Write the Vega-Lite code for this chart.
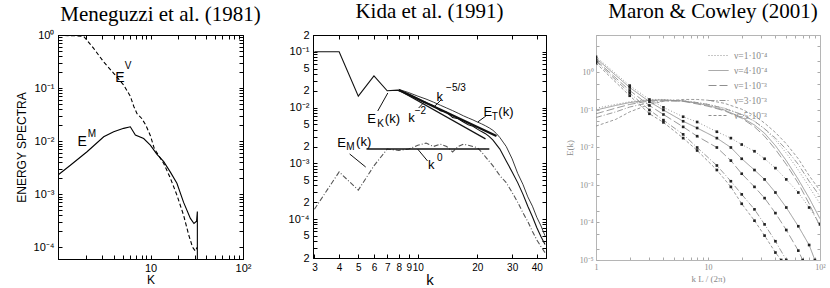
{
  "$schema": "https://vega.github.io/schema/vega-lite/v6.json",
  "padding": {"left": 14, "top": 0, "right": 0, "bottom": 0},
  "background": "white",
  "config": {"view": {"stroke": "black", "strokeWidth": 1}, "axis": {"grid": false, "labelOverlap": false, "labelFlush": false}},
  "spacing": 25,
  "resolve": {"scale": {"strokeDash": "independent"}, "legend": {"strokeDash": "independent"}},
  "datasets": {
    "men": [
      {"s":"EV","i":1,"k":1,"E":0.98},{"s":"EV","i":2,"k":1.5,"E":0.97},{"s":"EV","i":3,"k":1.9,"E":0.94},{"s":"EV","i":4,"k":2.43,"E":0.56},{"s":"EV","i":5,"k":3.12,"E":0.31},{"s":"EV","i":6,"k":4.0,"E":0.19},{"s":"EV","i":7,"k":5.13,"E":0.114},{"s":"EV","i":8,"k":6.05,"E":0.07},{"s":"EV","i":9,"k":6.6,"E":0.045},{"s":"EV","i":10,"k":7.15,"E":0.033},{"s":"EV","i":11,"k":8.0,"E":0.027},{"s":"EV","i":12,"k":8.9,"E":0.02},{"s":"EV","i":13,"k":10,"E":0.0125},{"s":"EV","i":14,"k":11,"E":0.0072},{"s":"EV","i":15,"k":13.9,"E":0.0038},{"s":"EV","i":16,"k":16.4,"E":0.002},{"s":"EV","i":17,"k":19.3,"E":0.00096},{"s":"EV","i":18,"k":22.8,"E":0.0004},{"s":"EV","i":19,"k":25.9,"E":0.00017},{"s":"EV","i":20,"k":28.5,"E":0.0001},{"s":"EV","i":21,"k":30.5,"E":0.000085},{"s":"EV","i":22,"k":32.0,"E":0.0001},
      {"s":"EM","i":1,"k":1,"E":0.0023},{"s":"EM","i":2,"k":1.36,"E":0.0035},{"s":"EM","i":3,"k":2.06,"E":0.0063},{"s":"EM","i":4,"k":3.12,"E":0.0121},{"s":"EM","i":5,"k":4.0,"E":0.015},{"s":"EM","i":6,"k":5.13,"E":0.0174},{"s":"EM","i":7,"k":6.05,"E":0.0186},{"s":"EM","i":8,"k":6.86,"E":0.013},{"s":"EM","i":9,"k":8.44,"E":0.0112},{"s":"EM","i":10,"k":9.96,"E":0.0084},{"s":"EM","i":11,"k":11.7,"E":0.0057},{"s":"EM","i":12,"k":13.9,"E":0.0041},{"s":"EM","i":13,"k":16.4,"E":0.0026},{"s":"EM","i":14,"k":19.3,"E":0.0016},{"s":"EM","i":15,"k":22.8,"E":0.0007},{"s":"EM","i":16,"k":27.0,"E":0.00035},{"s":"EM","i":17,"k":29.5,"E":0.00028},{"s":"EM","i":18,"k":31.5,"E":0.00031},{"s":"EM","i":19,"k":32.1,"E":0.00047},{"s":"EM","i":20,"k":32.1,"E":0.00005}
    ],
    "menlab": [
      {"role":"main","t":"E","k":4.68,"E":0.154},{"role":"sup","t":"V","k":5.71,"E":0.26},
      {"role":"main","t":"E","k":1.82,"E":0.0096},{"role":"sup","t":"M","k":2.33,"E":0.0136}
    ],
    "kida": [
      {"s":"EK","k":3,"E":0.1},{"s":"EK","k":4,"E":0.1},{"s":"EK","k":5,"E":0.016},{"s":"EK","k":6,"E":0.037},{"s":"EK","k":7,"E":0.02},{"s":"EK","k":7.9,"E":0.0205},{"s":"EK","k":9,"E":0.0175},{"s":"EK","k":10,"E":0.0145},{"s":"EK","k":11,"E":0.0122},{"s":"EK","k":12,"E":0.0108},{"s":"EK","k":13,"E":0.0088},{"s":"EK","k":14,"E":0.0082},{"s":"EK","k":15,"E":0.0066},{"s":"EK","k":16,"E":0.0063},{"s":"EK","k":17,"E":0.0055},{"s":"EK","k":18,"E":0.0049},{"s":"EK","k":19,"E":0.0046},{"s":"EK","k":20,"E":0.0041},{"s":"EK","k":21,"E":0.0037},{"s":"EK","k":22,"E":0.0034},{"s":"EK","k":23,"E":0.003},{"s":"EK","k":24,"E":0.0026},{"s":"EK","k":26,"E":0.0018},{"s":"EK","k":28,"E":0.0011},{"s":"EK","k":30,"E":0.0007},{"s":"EK","k":32,"E":0.00045},{"s":"EK","k":34,"E":0.00028},{"s":"EK","k":36,"E":0.00017},{"s":"EK","k":38,"E":0.00011},{"s":"EK","k":40,"E":0.00007},{"s":"EK","k":42,"E":0.000048},{"s":"EK","k":44,"E":0.000035},
      {"s":"ET","k":8,"E":0.0212},{"s":"ET","k":9,"E":0.0185},{"s":"ET","k":10,"E":0.016},{"s":"ET","k":11,"E":0.0142},{"s":"ET","k":12,"E":0.0125},{"s":"ET","k":13,"E":0.011},{"s":"ET","k":14,"E":0.0098},{"s":"ET","k":15,"E":0.0088},{"s":"ET","k":16,"E":0.0079},{"s":"ET","k":17,"E":0.0071},{"s":"ET","k":18,"E":0.0065},{"s":"ET","k":19,"E":0.006},{"s":"ET","k":20,"E":0.0055},{"s":"ET","k":21,"E":0.0051},{"s":"ET","k":22,"E":0.0047},{"s":"ET","k":23,"E":0.0043},{"s":"ET","k":24,"E":0.0039},{"s":"ET","k":25,"E":0.0034},{"s":"ET","k":26,"E":0.0029},{"s":"ET","k":27,"E":0.0024},{"s":"ET","k":28,"E":0.002},{"s":"ET","k":30,"E":0.0012},{"s":"ET","k":32,"E":0.00066},{"s":"ET","k":34,"E":0.00042},{"s":"ET","k":36,"E":0.00025},{"s":"ET","k":38,"E":0.00017},{"s":"ET","k":40,"E":0.000107},{"s":"ET","k":42,"E":0.000075},{"s":"ET","k":44,"E":0.00005},
      {"s":"EM","k":3,"E":0.00015},{"s":"EM","k":4,"E":0.0007},{"s":"EM","k":5,"E":0.00033},{"s":"EM","k":6,"E":0.0009},{"s":"EM","k":7,"E":0.0018},{"s":"EM","k":8,"E":0.0017},{"s":"EM","k":9,"E":0.0018},{"s":"EM","k":10,"E":0.0021},{"s":"EM","k":11,"E":0.0023},{"s":"EM","k":12,"E":0.002},{"s":"EM","k":13,"E":0.0022},{"s":"EM","k":14,"E":0.002},{"s":"EM","k":15,"E":0.0016},{"s":"EM","k":16,"E":0.002},{"s":"EM","k":17,"E":0.0022},{"s":"EM","k":18,"E":0.0021},{"s":"EM","k":19,"E":0.002},{"s":"EM","k":20,"E":0.0019},{"s":"EM","k":21,"E":0.0016},{"s":"EM","k":22,"E":0.0013},{"s":"EM","k":24,"E":0.0009},{"s":"EM","k":26,"E":0.0006},{"s":"EM","k":28,"E":0.00045},{"s":"EM","k":30,"E":0.0003},{"s":"EM","k":32,"E":0.0002},{"s":"EM","k":34,"E":0.00013},{"s":"EM","k":36,"E":0.00009},{"s":"EM","k":38,"E":0.00006},{"s":"EM","k":40,"E":0.000042},{"s":"EM","k":42,"E":0.000032},{"s":"EM","k":44,"E":0.000025},
      {"s":"P53","k":8,"E":0.0207},{"s":"P53","k":25,"E":0.0031},
      {"s":"P2","k":8,"E":0.0207},{"s":"P2","k":22,"E":0.00274},
      {"s":"P0","k":5.5,"E":0.0018},{"s":"P0","k":23,"E":0.0018},
      {"s":"ptrEK","k":6.27,"E":0.00867},{"s":"ptrEK","k":7.05,"E":0.01823},
      {"s":"ptr53","k":12.06,"E":0.01023},{"s":"ptr53","k":13.1,"E":0.01365},
      {"s":"ptr2","k":10.1,"E":0.00982},{"s":"ptr2","k":10.9,"E":0.01309},
      {"s":"ptrET","k":20.1,"E":0.0055},{"s":"ptrET","k":22.1,"E":0.00705},
      {"s":"ptrEM","k":4.52,"E":0.00147},{"s":"ptrEM","k":5.45,"E":0.000857},
      {"s":"ptr0","k":9.98,"E":0.0018},{"s":"ptr0","k":11.2,"E":0.0011}
    ],
    "kidalab": [
      {"role":"main","t":"E","k":5.84,"E":0.00622},{"role":"sub","t":"K","k":6.48,"E":0.00507},{"role":"main","t":"(k)","k":7.44,"E":0.00622},
      {"role":"main","t":"k","k":12.9,"E":0.01545},{"role":"sup","t":"−5/3","k":15.6,"E":0.0224},
      {"role":"main","t":"k","k":9.3,"E":0.00649},{"role":"sup","t":"−2","k":10.3,"E":0.00867},
      {"role":"main","t":"E","k":22.6,"E":0.00832},{"role":"sub","t":"T","k":24.5,"E":0.00676},{"role":"main","t":"(k)","k":27.9,"E":0.00832},
      {"role":"main","t":"E","k":4.11,"E":0.00231},{"role":"sub","t":"M","k":4.56,"E":0.00196},{"role":"main","t":"(k)","k":5.32,"E":0.00241},
      {"role":"main","t":"k","k":11.7,"E":0.000931},{"role":"sup","t":"0","k":12.9,"E":0.00124}
    ],
    "maron": [
      {"kind":"kin","nu":"ν=1·10⁻⁴","k":1,"E":2.63},{"kind":"kin","nu":"ν=1·10⁻⁴","k":2,"E":0.447},{"kind":"kin","nu":"ν=1·10⁻⁴","k":3,"E":0.1905},{"kind":"kin","nu":"ν=1·10⁻⁴","k":4,"E":0.1175},{"kind":"kin","nu":"ν=1·10⁻⁴","k":6,"E":0.0661},{"kind":"kin","nu":"ν=1·10⁻⁴","k":8,"E":0.0479},{"kind":"kin","nu":"ν=1·10⁻⁴","k":12,"E":0.0263},{"kind":"kin","nu":"ν=1·10⁻⁴","k":16,"E":0.0178},{"kind":"kin","nu":"ν=1·10⁻⁴","k":20,"E":0.012},{"kind":"kin","nu":"ν=1·10⁻⁴","k":26,"E":0.00794},{"kind":"kin","nu":"ν=1·10⁻⁴","k":32,"E":0.00501},{"kind":"kin","nu":"ν=1·10⁻⁴","k":40,"E":0.00282},{"kind":"kin","nu":"ν=1·10⁻⁴","k":50,"E":0.00141},{"kind":"kin","nu":"ν=1·10⁻⁴","k":64,"E":0.000631},{"kind":"kin","nu":"ν=1·10⁻⁴","k":80,"E":0.000251},{"kind":"kin","nu":"ν=1·10⁻⁴","k":100,"E":0.0000891},
      {"kind":"kin","nu":"ν=4·10⁻⁴","k":1,"E":2.4},{"kind":"kin","nu":"ν=4·10⁻⁴","k":2,"E":0.398},{"kind":"kin","nu":"ν=4·10⁻⁴","k":3,"E":0.166},{"kind":"kin","nu":"ν=4·10⁻⁴","k":4,"E":0.1},{"kind":"kin","nu":"ν=4·10⁻⁴","k":6,"E":0.0501},{"kind":"kin","nu":"ν=4·10⁻⁴","k":8,"E":0.0331},{"kind":"kin","nu":"ν=4·10⁻⁴","k":12,"E":0.0178},{"kind":"kin","nu":"ν=4·10⁻⁴","k":16,"E":0.01},{"kind":"kin","nu":"ν=4·10⁻⁴","k":20,"E":0.00501},{"kind":"kin","nu":"ν=4·10⁻⁴","k":26,"E":0.00251},{"kind":"kin","nu":"ν=4·10⁻⁴","k":32,"E":0.00141},{"kind":"kin","nu":"ν=4·10⁻⁴","k":40,"E":0.000631},{"kind":"kin","nu":"ν=4·10⁻⁴","k":50,"E":0.000251},{"kind":"kin","nu":"ν=4·10⁻⁴","k":64,"E":0.0000794},{"kind":"kin","nu":"ν=4·10⁻⁴","k":80,"E":0.0000251},{"kind":"kin","nu":"ν=4·10⁻⁴","k":90,"E":0.00001},
      {"kind":"kin","nu":"ν=1·10⁻³","k":1,"E":2.14},{"kind":"kin","nu":"ν=1·10⁻³","k":2,"E":0.331},{"kind":"kin","nu":"ν=1·10⁻³","k":3,"E":0.132},{"kind":"kin","nu":"ν=1·10⁻³","k":4,"E":0.0759},{"kind":"kin","nu":"ν=1·10⁻³","k":6,"E":0.0355},{"kind":"kin","nu":"ν=1·10⁻³","k":8,"E":0.02},{"kind":"kin","nu":"ν=1·10⁻³","k":12,"E":0.01},{"kind":"kin","nu":"ν=1·10⁻³","k":16,"E":0.00447},{"kind":"kin","nu":"ν=1·10⁻³","k":20,"E":0.002},{"kind":"kin","nu":"ν=1·10⁻³","k":26,"E":0.000891},{"kind":"kin","nu":"ν=1·10⁻³","k":32,"E":0.000447},{"kind":"kin","nu":"ν=1·10⁻³","k":40,"E":0.000178},{"kind":"kin","nu":"ν=1·10⁻³","k":50,"E":0.0000631},{"kind":"kin","nu":"ν=1·10⁻³","k":64,"E":0.0000178},{"kind":"kin","nu":"ν=1·10⁻³","k":70,"E":0.00001},
      {"kind":"kin","nu":"ν=3·10⁻³","k":1,"E":2.0},{"kind":"kin","nu":"ν=3·10⁻³","k":2,"E":0.282},{"kind":"kin","nu":"ν=3·10⁻³","k":3,"E":0.1},{"kind":"kin","nu":"ν=3·10⁻³","k":4,"E":0.0537},{"kind":"kin","nu":"ν=3·10⁻³","k":6,"E":0.0224},{"kind":"kin","nu":"ν=3·10⁻³","k":8,"E":0.01},{"kind":"kin","nu":"ν=3·10⁻³","k":12,"E":0.00331},{"kind":"kin","nu":"ν=3·10⁻³","k":16,"E":0.00126},{"kind":"kin","nu":"ν=3·10⁻³","k":20,"E":0.000562},{"kind":"kin","nu":"ν=3·10⁻³","k":26,"E":0.000224},{"kind":"kin","nu":"ν=3·10⁻³","k":32,"E":0.0000891},{"kind":"kin","nu":"ν=3·10⁻³","k":40,"E":0.0000316},{"kind":"kin","nu":"ν=3·10⁻³","k":50,"E":0.00001},
      {"kind":"kin","nu":"ν=5·10⁻³","k":1,"E":1.78},{"kind":"kin","nu":"ν=5·10⁻³","k":2,"E":0.24},{"kind":"kin","nu":"ν=5·10⁻³","k":3,"E":0.0794},{"kind":"kin","nu":"ν=5·10⁻³","k":4,"E":0.0468},{"kind":"kin","nu":"ν=5·10⁻³","k":6,"E":0.0178},{"kind":"kin","nu":"ν=5·10⁻³","k":8,"E":0.00832},{"kind":"kin","nu":"ν=5·10⁻³","k":12,"E":0.00251},{"kind":"kin","nu":"ν=5·10⁻³","k":16,"E":0.000891},{"kind":"kin","nu":"ν=5·10⁻³","k":20,"E":0.000316},{"kind":"kin","nu":"ν=5·10⁻³","k":26,"E":0.000112},{"kind":"kin","nu":"ν=5·10⁻³","k":32,"E":0.0000447},{"kind":"kin","nu":"ν=5·10⁻³","k":40,"E":0.0000158},{"kind":"kin","nu":"ν=5·10⁻³","k":45,"E":0.00001},
      {"kind":"mag","nu":"ν=1·10⁻⁴","k":1,"E":0.112},{"kind":"mag","nu":"ν=1·10⁻⁴","k":1.5,"E":0.141},{"kind":"mag","nu":"ν=1·10⁻⁴","k":2,"E":0.166},{"kind":"mag","nu":"ν=1·10⁻⁴","k":3,"E":0.191},{"kind":"mag","nu":"ν=1·10⁻⁴","k":4,"E":0.191},{"kind":"mag","nu":"ν=1·10⁻⁴","k":6,"E":0.178},{"kind":"mag","nu":"ν=1·10⁻⁴","k":8,"E":0.158},{"kind":"mag","nu":"ν=1·10⁻⁴","k":10,"E":0.141},{"kind":"mag","nu":"ν=1·10⁻⁴","k":14,"E":0.112},{"kind":"mag","nu":"ν=1·10⁻⁴","k":20,"E":0.0759},{"kind":"mag","nu":"ν=1·10⁻⁴","k":26,"E":0.0501},{"kind":"mag","nu":"ν=1·10⁻⁴","k":32,"E":0.0316},{"kind":"mag","nu":"ν=1·10⁻⁴","k":40,"E":0.0158},{"kind":"mag","nu":"ν=1·10⁻⁴","k":50,"E":0.00708},{"kind":"mag","nu":"ν=1·10⁻⁴","k":64,"E":0.00251},{"kind":"mag","nu":"ν=1·10⁻⁴","k":80,"E":0.000891},{"kind":"mag","nu":"ν=1·10⁻⁴","k":100,"E":0.000316},
      {"kind":"mag","nu":"ν=4·10⁻⁴","k":1,"E":0.1},{"kind":"mag","nu":"ν=4·10⁻⁴","k":1.5,"E":0.132},{"kind":"mag","nu":"ν=4·10⁻⁴","k":2,"E":0.158},{"kind":"mag","nu":"ν=4·10⁻⁴","k":3,"E":0.182},{"kind":"mag","nu":"ν=4·10⁻⁴","k":4,"E":0.186},{"kind":"mag","nu":"ν=4·10⁻⁴","k":6,"E":0.174},{"kind":"mag","nu":"ν=4·10⁻⁴","k":8,"E":0.151},{"kind":"mag","nu":"ν=4·10⁻⁴","k":10,"E":0.132},{"kind":"mag","nu":"ν=4·10⁻⁴","k":14,"E":0.1},{"kind":"mag","nu":"ν=4·10⁻⁴","k":20,"E":0.0631},{"kind":"mag","nu":"ν=4·10⁻⁴","k":26,"E":0.0398},{"kind":"mag","nu":"ν=4·10⁻⁴","k":32,"E":0.024},{"kind":"mag","nu":"ν=4·10⁻⁴","k":40,"E":0.0112},{"kind":"mag","nu":"ν=4·10⁻⁴","k":50,"E":0.00447},{"kind":"mag","nu":"ν=4·10⁻⁴","k":64,"E":0.00141},{"kind":"mag","nu":"ν=4·10⁻⁴","k":80,"E":0.000447},{"kind":"mag","nu":"ν=4·10⁻⁴","k":100,"E":0.000126},
      {"kind":"mag","nu":"ν=1·10⁻³","k":1,"E":0.0794},{"kind":"mag","nu":"ν=1·10⁻³","k":1.5,"E":0.112},{"kind":"mag","nu":"ν=1·10⁻³","k":2,"E":0.141},{"kind":"mag","nu":"ν=1·10⁻³","k":3,"E":0.174},{"kind":"mag","nu":"ν=1·10⁻³","k":4,"E":0.182},{"kind":"mag","nu":"ν=1·10⁻³","k":6,"E":0.17},{"kind":"mag","nu":"ν=1·10⁻³","k":8,"E":0.145},{"kind":"mag","nu":"ν=1·10⁻³","k":10,"E":0.126},{"kind":"mag","nu":"ν=1·10⁻³","k":14,"E":0.0955},{"kind":"mag","nu":"ν=1·10⁻³","k":20,"E":0.0603},{"kind":"mag","nu":"ν=1·10⁻³","k":26,"E":0.0355},{"kind":"mag","nu":"ν=1·10⁻³","k":32,"E":0.02},{"kind":"mag","nu":"ν=1·10⁻³","k":40,"E":0.00891},{"kind":"mag","nu":"ν=1·10⁻³","k":50,"E":0.00355},{"kind":"mag","nu":"ν=1·10⁻³","k":64,"E":0.00112},{"kind":"mag","nu":"ν=1·10⁻³","k":80,"E":0.000316},{"kind":"mag","nu":"ν=1·10⁻³","k":100,"E":0.0000794},
      {"kind":"mag","nu":"ν=3·10⁻³","k":1,"E":0.0631},{"kind":"mag","nu":"ν=3·10⁻³","k":1.5,"E":0.0891},{"kind":"mag","nu":"ν=3·10⁻³","k":2,"E":0.12},{"kind":"mag","nu":"ν=3·10⁻³","k":3,"E":0.158},{"kind":"mag","nu":"ν=3·10⁻³","k":4,"E":0.174},{"kind":"mag","nu":"ν=3·10⁻³","k":6,"E":0.174},{"kind":"mag","nu":"ν=3·10⁻³","k":8,"E":0.158},{"kind":"mag","nu":"ν=3·10⁻³","k":10,"E":0.141},{"kind":"mag","nu":"ν=3·10⁻³","k":14,"E":0.11},{"kind":"mag","nu":"ν=3·10⁻³","k":20,"E":0.0759},{"kind":"mag","nu":"ν=3·10⁻³","k":26,"E":0.0501},{"kind":"mag","nu":"ν=3·10⁻³","k":32,"E":0.0316},{"kind":"mag","nu":"ν=3·10⁻³","k":40,"E":0.0178},{"kind":"mag","nu":"ν=3·10⁻³","k":50,"E":0.00891},{"kind":"mag","nu":"ν=3·10⁻³","k":64,"E":0.00355},{"kind":"mag","nu":"ν=3·10⁻³","k":80,"E":0.00126},{"kind":"mag","nu":"ν=3·10⁻³","k":100,"E":0.000501},
      {"kind":"mag","nu":"ν=5·10⁻³","k":1,"E":0.0372},{"kind":"mag","nu":"ν=5·10⁻³","k":1.5,"E":0.0562},{"kind":"mag","nu":"ν=5·10⁻³","k":2,"E":0.0891},{"kind":"mag","nu":"ν=5·10⁻³","k":3,"E":0.141},{"kind":"mag","nu":"ν=5·10⁻³","k":4,"E":0.17},{"kind":"mag","nu":"ν=5·10⁻³","k":6,"E":0.191},{"kind":"mag","nu":"ν=5·10⁻³","k":8,"E":0.191},{"kind":"mag","nu":"ν=5·10⁻³","k":10,"E":0.182},{"kind":"mag","nu":"ν=5·10⁻³","k":14,"E":0.151},{"kind":"mag","nu":"ν=5·10⁻³","k":20,"E":0.105},{"kind":"mag","nu":"ν=5·10⁻³","k":26,"E":0.0708},{"kind":"mag","nu":"ν=5·10⁻³","k":32,"E":0.0447},{"kind":"mag","nu":"ν=5·10⁻³","k":40,"E":0.0251},{"kind":"mag","nu":"ν=5·10⁻³","k":50,"E":0.0126},{"kind":"mag","nu":"ν=5·10⁻³","k":64,"E":0.00501},{"kind":"mag","nu":"ν=5·10⁻³","k":80,"E":0.00178},{"kind":"mag","nu":"ν=5·10⁻³","k":100,"E":0.000708}
    ]
  },
  "hconcat": [
    {
      "width": 185, "height": 224,
      "title": {"text": "Meneguzzi et al. (1981)", "font": "Liberation Serif", "fontSize": 21, "fontWeight": "normal", "color": "black", "frame": "group", "anchor": "middle", "dx": 10, "offset": 4},
      "resolve": {"axis": {"x": "independent", "y": "independent"}},
      "layer": [
        {
          "data": {"name": "men"},
          "transform": [{"filter": "datum.s == 'EV'"}],
          "mark": {"type": "line", "color": "black", "strokeWidth": 1.1, "strokeDash": [4, 2.5], "clip": true},
          "encoding": {
            "x": {"field": "k", "type": "quantitative", "scale": {"type": "log", "domain": [1, 100], "nice": false},
              "axis": {"values": [1,2,3,4,5,6,7,8,9,10,20,30,40,50,60,70,80,90,100], "labelExpr": "datum.value == 10 ? '10' : datum.value == 100 ? '10²' : ''", "tickSize": -4, "labelPadding": 7, "labelFont": "Liberation Sans", "labelFontSize": 11, "labelColor": "black", "tickColor": "black", "domainColor": "black", "title": "K", "titleFont": "Liberation Sans", "titleFontSize": 12, "titleFontWeight": "normal", "titleColor": "black", "titlePadding": 1}},
            "y": {"field": "E", "type": "quantitative", "scale": {"type": "log", "domain": [0.00006, 1], "nice": false},
              "axis": {"values": [0.0001,0.0002,0.0003,0.0004,0.0005,0.0006,0.0007,0.0008,0.0009,0.001,0.002,0.003,0.004,0.005,0.006,0.007,0.008,0.009,0.01,0.02,0.03,0.04,0.05,0.06,0.07,0.08,0.09,0.1,0.2,0.3,0.4,0.5,0.6,0.7,0.8,0.9,1], "labelExpr": "datum.value == 1 ? '10⁰' : datum.value == 0.1 ? '10⁻¹' : datum.value == 0.01 ? '10⁻²' : datum.value == 0.001 ? '10⁻³' : datum.value == 0.0001 ? '10⁻⁴' : ''", "tickSize": -4, "labelPadding": 8, "labelFont": "Liberation Sans", "labelFontSize": 11, "labelColor": "black", "tickColor": "black", "domainColor": "black", "title": "ENERGY SPECTRA", "titleFont": "Liberation Sans", "titleFontSize": 12, "titleFontWeight": "normal", "titleColor": "black", "titlePadding": 5}},
            "order": {"field": "i", "type": "quantitative"}
          }
        },
        {
          "data": {"name": "men"},
          "transform": [{"filter": "datum.s == 'EM'"}],
          "mark": {"type": "line", "color": "black", "strokeWidth": 1.1, "clip": true},
          "encoding": {
            "x": {"field": "k", "type": "quantitative", "axis": null},
            "y": {"field": "E", "type": "quantitative", "axis": null},
            "order": {"field": "i", "type": "quantitative"}
          }
        },
        {
          "data": {"name": "menlab"},
          "transform": [{"filter": "datum.role == 'main'"}],
          "mark": {"type": "text", "font": "Liberation Sans", "fontSize": 14, "color": "black", "align": "center", "baseline": "middle"},
          "encoding": {
            "x": {"field": "k", "type": "quantitative", "axis": null},
            "y": {"field": "E", "type": "quantitative", "axis": null},
            "text": {"field": "t"}
          }
        },
        {
          "data": {"name": "menlab"},
          "transform": [{"filter": "datum.role == 'sup'"}],
          "mark": {"type": "text", "font": "Liberation Sans", "fontSize": 10, "color": "black", "align": "center", "baseline": "middle"},
          "encoding": {
            "x": {"field": "k", "type": "quantitative", "axis": null},
            "y": {"field": "E", "type": "quantitative", "axis": null},
            "text": {"field": "t"}
          }
        },
        {
          "data": {"name": "men"},
          "mark": {"type": "point", "opacity": 0},
          "encoding": {
            "x": {"field": "k", "type": "quantitative", "axis": {"orient": "top", "values": [2,3,4,5,6,7,8,9,10,20,30,40,50,60,70,80,90], "labels": false, "title": null, "tickSize": -4, "tickColor": "black", "domainColor": "black"}},
            "y": {"field": "E", "type": "quantitative", "axis": {"orient": "right", "values": [0.0001,0.0002,0.0003,0.0004,0.0005,0.0006,0.0007,0.0008,0.0009,0.001,0.002,0.003,0.004,0.005,0.006,0.007,0.008,0.009,0.01,0.02,0.03,0.04,0.05,0.06,0.07,0.08,0.09,0.1,0.2,0.3,0.4,0.5,0.6,0.7,0.8,0.9], "labels": false, "title": null, "tickSize": -4, "tickColor": "black", "domainColor": "black"}}
          }
        }
      ]
    },
    {
      "spacing": 15,
      "resolve": {"scale": {"strokeDash": "independent"}, "legend": {"strokeDash": "independent"}},
      "hconcat": [
        {
          "width": 233, "height": 223,
          "title": {"text": "Kida et al. (1991)", "font": "Liberation Serif", "fontSize": 21, "fontWeight": "normal", "color": "black", "frame": "group", "anchor": "middle", "dx": 0, "offset": 7},
          "resolve": {"axis": {"x": "independent", "y": "independent"}},
          "layer": [
            {
              "data": {"name": "kida"},
              "transform": [{"filter": "datum.s == 'EM'"}],
              "mark": {"type": "line", "color": "#555555", "strokeWidth": 1.1, "strokeDash": [5, 2, 1, 2], "clip": true},
              "encoding": {
                "x": {"field": "k", "type": "quantitative", "scale": {"type": "log", "domain": [2.95, 44.5], "nice": false},
                  "axis": {"values": [3,4,5,6,7,8,9,10,20,30,40], "tickSize": -4, "labelPadding": 8, "labelFont": "Liberation Sans", "labelFontSize": 10, "labelColor": "black", "tickColor": "black", "domainColor": "black", "title": "k", "titleFont": "Liberation Sans", "titleFontSize": 15, "titleFontWeight": "normal", "titleColor": "black", "titlePadding": 0}},
                "y": {"field": "E", "type": "quantitative", "scale": {"type": "log", "domain": [0.00002, 0.2], "nice": false},
                  "axis": {"values": [0.00002,0.00003,0.00004,0.00005,0.00006,0.00007,0.00008,0.00009,0.0001,0.0002,0.0003,0.0004,0.0005,0.0006,0.0007,0.0008,0.0009,0.001,0.002,0.003,0.004,0.005,0.006,0.007,0.008,0.009,0.01,0.02,0.03,0.04,0.05,0.06,0.07,0.08,0.09,0.1,0.2], "labelExpr": "datum.value == 0.1 ? '10⁻¹' : datum.value == 0.01 ? '10⁻²' : datum.value == 0.001 ? '10⁻³' : datum.value == 0.0001 ? '10⁻⁴' : (datum.value == 0.2 || datum.value == 0.02 || datum.value == 0.002 || datum.value == 0.0002 || datum.value == 0.00002) ? '2' : (datum.value == 0.05 || datum.value == 0.005 || datum.value == 0.0005 || datum.value == 0.00005) ? '5' : ''", "tickSize": -4, "labelPadding": 8, "labelFont": "Liberation Sans", "labelFontSize": 11, "labelColor": "black", "tickColor": "black", "domainColor": "black", "title": null}}
              }
            },
            {
              "data": {"name": "kida"},
              "transform": [{"filter": "datum.s == 'EK'"}],
              "mark": {"type": "line", "color": "#111111", "strokeWidth": 1.1, "clip": true},
              "encoding": {"x": {"field": "k", "type": "quantitative", "axis": null}, "y": {"field": "E", "type": "quantitative", "axis": null}}
            },
            {
              "data": {"name": "kida"},
              "transform": [{"filter": "datum.s == 'ET'"}],
              "mark": {"type": "line", "color": "#222222", "strokeWidth": 0.9, "clip": true},
              "encoding": {"x": {"field": "k", "type": "quantitative", "axis": null}, "y": {"field": "E", "type": "quantitative", "axis": null}}
            },
            {
              "data": {"name": "kida"},
              "transform": [{"filter": "datum.s == 'P53'"}],
              "mark": {"type": "line", "color": "#111111", "strokeWidth": 2.2, "clip": true},
              "encoding": {"x": {"field": "k", "type": "quantitative", "axis": null}, "y": {"field": "E", "type": "quantitative", "axis": null}}
            },
            {
              "data": {"name": "kida"},
              "transform": [{"filter": "datum.s == 'P2'"}],
              "mark": {"type": "line", "color": "#111111", "strokeWidth": 1.2, "clip": true},
              "encoding": {"x": {"field": "k", "type": "quantitative", "axis": null}, "y": {"field": "E", "type": "quantitative", "axis": null}}
            },
            {
              "data": {"name": "kida"},
              "transform": [{"filter": "datum.s == 'P0'"}],
              "mark": {"type": "line", "color": "#111111", "strokeWidth": 1.6, "clip": true},
              "encoding": {"x": {"field": "k", "type": "quantitative", "axis": null}, "y": {"field": "E", "type": "quantitative", "axis": null}}
            },
            {
              "data": {"name": "kida"},
              "transform": [{"filter": "indexof(datum.s, 'ptr') == 0"}],
              "mark": {"type": "line", "color": "#111111", "strokeWidth": 1, "clip": true},
              "encoding": {"x": {"field": "k", "type": "quantitative", "axis": null}, "y": {"field": "E", "type": "quantitative", "axis": null}, "detail": {"field": "s", "type": "nominal"}}
            },
            {
              "data": {"name": "kidalab"},
              "transform": [{"filter": "datum.role == 'main'"}],
              "mark": {"type": "text", "font": "Liberation Sans", "fontSize": 13, "color": "black", "align": "center", "baseline": "middle"},
              "encoding": {
                "x": {"field": "k", "type": "quantitative", "axis": null},
                "y": {"field": "E", "type": "quantitative", "axis": null},
                "text": {"field": "t"}
              }
            },
            {
              "data": {"name": "kidalab"},
              "transform": [{"filter": "datum.role != 'main'"}],
              "mark": {"type": "text", "font": "Liberation Sans", "fontSize": 10, "color": "black", "align": "center", "baseline": "middle"},
              "encoding": {
                "x": {"field": "k", "type": "quantitative", "axis": null},
                "y": {"field": "E", "type": "quantitative", "axis": null},
                "text": {"field": "t"}
              }
            },
            {
              "data": {"name": "kida"},
              "mark": {"type": "point", "opacity": 0},
              "encoding": {
                "x": {"field": "k", "type": "quantitative", "axis": {"orient": "top", "values": [4,5,6,7,8,9,10,20,30,40], "labels": false, "title": null, "tickSize": -4, "tickColor": "black", "domainColor": "black"}},
                "y": {"field": "E", "type": "quantitative", "axis": {"orient": "right", "values": [0.00003,0.00004,0.00005,0.00006,0.00007,0.00008,0.00009,0.0001,0.0002,0.0003,0.0004,0.0005,0.0006,0.0007,0.0008,0.0009,0.001,0.002,0.003,0.004,0.005,0.006,0.007,0.008,0.009,0.01,0.02,0.03,0.04,0.05,0.06,0.07,0.08,0.09,0.1], "labels": false, "title": null, "tickSize": -4, "tickColor": "black", "domainColor": "black"}}
              }
            }
          ]
        },
        {
          "width": 224, "height": 225,
          "view": {"stroke": "#b5b5b5"},
          "title": {"text": "Maron & Cowley (2001)", "font": "Liberation Serif", "fontSize": 21, "fontWeight": "normal", "color": "black", "frame": "group", "anchor": "middle", "dx": 5, "offset": 9},
          "resolve": {"axis": {"x": "independent", "y": "independent"}},
          "layer": [
            {
              "data": {"name": "maron"},
              "mark": {"type": "line", "color": "#8f8f8f", "strokeWidth": 0.9, "clip": true},
              "encoding": {
                "x": {"field": "k", "type": "quantitative", "scale": {"type": "log", "domain": [1, 100], "nice": false},
                  "axis": {"values": [1,2,3,4,5,6,7,8,9,10,20,30,40,50,60,70,80,90,100], "labelExpr": "datum.value == 1 ? '1' : datum.value == 10 ? '10' : datum.value == 100 ? '10²' : ''", "tickSize": -3, "labelPadding": 6, "labelFont": "Liberation Serif", "labelFontSize": 8, "labelColor": "#8a8a8a", "tickColor": "#aaaaaa", "domainColor": "#b5b5b5", "title": "k L / (2π)", "titleFont": "Liberation Serif", "titleFontSize": 9, "titleFontWeight": "normal", "titleColor": "#8a8a8a", "titlePadding": 3}},
                "y": {"field": "E", "type": "quantitative", "scale": {"type": "log", "domain": [0.00001, 10], "nice": false},
                  "axis": {"values": [0.00001,0.00002,0.00005,0.0001,0.0002,0.0005,0.001,0.002,0.005,0.01,0.02,0.05,0.1,0.2,0.5,1,2,5,10], "labelExpr": "datum.value == 1 ? '10⁰' : datum.value == 0.1 ? '10⁻¹' : datum.value == 0.01 ? '10⁻²' : datum.value == 0.001 ? '10⁻³' : datum.value == 0.0001 ? '10⁻⁴' : datum.value == 0.00001 ? '10⁻⁵' : ''", "tickSize": -3, "labelPadding": 6, "labelFont": "Liberation Serif", "labelFontSize": 8, "labelColor": "#8a8a8a", "tickColor": "#aaaaaa", "domainColor": "#b5b5b5", "title": "E(k)", "titleFont": "Liberation Serif", "titleFontSize": 9, "titleFontWeight": "normal", "titleColor": "#8a8a8a", "titlePadding": 5}},
                "detail": {"field": "kind", "type": "nominal"},
                "strokeDash": {"field": "nu", "type": "nominal", "scale": {"domain": ["ν=1·10⁻⁴", "ν=4·10⁻⁴", "ν=1·10⁻³", "ν=3·10⁻³", "ν=5·10⁻³"], "range": [[1, 2], [1, 0], [8, 3], [6, 2, 1, 2], [3, 2]]},
                  "legend": {"orient": "none", "legendX": 112, "legendY": 10, "title": null, "symbolType": "stroke", "symbolSize": 400, "symbolStrokeColor": "#8f8f8f", "symbolStrokeWidth": 1, "labelFont": "Liberation Serif", "labelFontSize": 9.5, "labelColor": "#8a8a8a", "rowPadding": 0, "labelOffset": 5}}
              }
            },
            {
              "data": {"name": "maron"},
              "transform": [{"filter": "datum.kind == 'kin'"}],
              "mark": {"type": "point", "shape": "square", "filled": true, "size": 7, "color": "#222222", "opacity": 1, "clip": true},
              "encoding": {
                "x": {"field": "k", "type": "quantitative", "axis": null},
                "y": {"field": "E", "type": "quantitative", "axis": null}
              }
            },
            {
              "data": {"name": "maron"},
              "mark": {"type": "point", "opacity": 0},
              "encoding": {
                "x": {"field": "k", "type": "quantitative", "axis": {"orient": "top", "values": [2,3,4,5,6,7,8,9,10,20,30,40,50,60,70,80,90], "labels": false, "title": null, "tickSize": -3, "tickColor": "#aaaaaa", "domainColor": "#b5b5b5"}},
                "y": {"field": "E", "type": "quantitative", "axis": {"orient": "right", "values": [0.00002,0.00005,0.0001,0.0002,0.0005,0.001,0.002,0.005,0.01,0.02,0.05,0.1,0.2,0.5,1,2,5], "labels": false, "title": null, "tickSize": -3, "tickColor": "#aaaaaa", "domainColor": "#b5b5b5"}}
              }
            }
          ]
        }
      ]
    }
  ]
}
